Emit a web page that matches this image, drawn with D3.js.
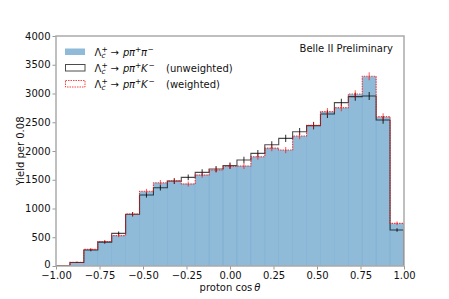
<!DOCTYPE html>
<html>
<head>
<meta charset="utf-8">
<script src="https://cdn.jsdelivr.net/npm/d3@7"></script>
<style>
  body { margin: 0; background: #fff; }
  svg { font-family: "DejaVu Sans", sans-serif; }
</style>
</head>
<body>
<svg width="449" height="299"></svg>
<script>
// bin edges of proton cos(theta), 25 bins of width 0.08
const binEdges = [-1.00, -0.92, -0.84, -0.76, -0.68, -0.60, -0.52, -0.44, -0.36, -0.28, -0.20, -0.12, -0.04,
  0.04, 0.12, 0.20, 0.28, 0.36, 0.44, 0.52, 0.60, 0.68, 0.76, 0.84, 0.92, 1.00]

// Lambda_c -> p pi pi (filled)
const pipiYield = [10, 64, 285, 425, 530, 900, 1295, 1445, 1475, 1430, 1585, 1668, 1730,
  1740, 1900, 2048, 2015, 2258, 2440, 2680, 2750, 2985, 3295, 2590, 738]

// Lambda_c -> p pi K unweighted
const pkUnweighted = [8, 62, 278, 415, 568, 899, 1235, 1362, 1478, 1542, 1629, 1687, 1745,
  1843, 1959, 2110, 2220, 2336, 2441, 2643, 2841, 2945, 2957, 2539, 626]
const pkUnweightedErr = [4, 10, 22, 27, 31, 39, 46, 48, 50, 51, 53, 54, 55,
  56, 58, 60, 62, 63, 65, 67, 69, 70, 70, 65, 32]

// Lambda_c -> p pi K weighted
const pkWeighted = [10, 65, 290, 425, 528, 905, 1300, 1449, 1480, 1426, 1583, 1670, 1735,
  1739, 1901, 2050, 2017, 2261, 2445, 2684, 2754, 2991, 3301, 2597, 742]
const pkWeightedErr = [4, 9, 20, 25, 28, 36, 42, 45, 46, 45, 48, 49, 50,
  50, 52, 54, 54, 57, 59, 62, 63, 66, 69, 61, 33]

const xTicks = [-1.00, -0.75, -0.50, -0.25, 0.00, 0.25, 0.50, 0.75, 1.00]
const yTicks = [0, 500, 1000, 1500, 2000, 2500, 3000, 3500, 4000]

const svg = d3.select('svg')
const margin = { top: 36, right: 45, bottom: 33, left: 56 }
const width = +svg.attr('width')
const height = +svg.attr('height')

const xScale = d3.scaleLinear().domain([-1, 1]).range([margin.left, width - margin.right])
const yScale = d3.scaleLinear().domain([0, 4000]).range([height - margin.bottom, margin.top])

const bins = pipiYield.map((d, i) => ({ lo: binEdges[i], hi: binEdges[i + 1] }))

svg.append('clipPath').attr('id', 'plot-clip')
  .append('rect')
  .attr('x', xScale(-1)).attr('y', yScale(4000))
  .attr('width', xScale(1) - xScale(-1))
  .attr('height', yScale(0) - yScale(4000))

const plot = svg.append('g').attr('clip-path', 'url(#plot-clip)')

// filled histogram
plot.selectAll('rect.bar').data(pipiYield).enter()
  .append('rect')
  .attr('class', 'bar')
  .attr('x', (d, i) => xScale(bins[i].lo))
  .attr('width', (d, i) => xScale(bins[i].hi) - xScale(bins[i].lo))
  .attr('y', d => yScale(d))
  .attr('height', d => yScale(0) - yScale(d))
  .attr('fill', '#1f77b4')
  .attr('fill-opacity', 0.5)
  .attr('stroke', '#1f77b4')
  .attr('stroke-opacity', 0.12)
  .attr('stroke-width', 0.6)

let stepPoints = (values) => {
  let pts = [[binEdges[0], 0]]
  values.forEach((v, i) => {
    pts.push([bins[i].lo, v])
    pts.push([bins[i].hi, v])
  })
  pts.push([binEdges[binEdges.length - 1], 0])
  return pts
}

const stepLine = d3.line().x(d => xScale(d[0])).y(d => yScale(d[1]))

plot.append('path')
  .attr('d', stepLine(stepPoints(pkUnweighted)))
  .attr('fill', 'none')
  .attr('stroke', '#000')
  .attr('stroke-opacity', 0.7)
  .attr('stroke-width', 1.1)

plot.append('path')
  .attr('d', stepLine(stepPoints(pkWeighted)))
  .attr('fill', 'none')
  .attr('stroke', '#ff0000')
  .attr('stroke-opacity', 0.75)
  .attr('stroke-width', 1.1)
  .attr('stroke-dasharray', '1.5,1')

let errorBars = (values, errs, colour, opacity) => {
  plot.append('g').selectAll('line').data(values).enter()
    .append('line')
    .attr('x1', (d, i) => xScale((bins[i].lo + bins[i].hi) / 2))
    .attr('x2', (d, i) => xScale((bins[i].lo + bins[i].hi) / 2))
    .attr('y1', (d, i) => yScale(d - errs[i]))
    .attr('y2', (d, i) => yScale(d + errs[i]))
    .attr('stroke', colour)
    .attr('stroke-opacity', opacity)
    .attr('stroke-width', 1.1)
}
errorBars(pkUnweighted, pkUnweightedErr, '#000', 0.75)
errorBars(pkWeighted, pkWeightedErr, '#ff0000', 0.6)

// axes
const xAxis = d3.axisBottom(xScale).tickValues(xTicks).tickFormat(d3.format('.2f')).tickSize(3.5).tickPadding(2)
const yAxis = d3.axisLeft(yScale).tickValues(yTicks).tickFormat(d3.format('d')).tickSize(3.5).tickPadding(2)

let gx = svg.append('g')
  .attr('transform', 'translate(0,' + yScale(0) + ')')
  .call(xAxis)
let gy = svg.append('g')
  .attr('transform', 'translate(' + xScale(-1) + ',0)')
  .call(yAxis)

;[gx, gy].forEach(g => {
  g.select('.domain').remove()
  g.selectAll('.tick line').attr('stroke', '#999').attr('stroke-width', 1)
  g.selectAll('.tick text').attr('fill', '#111').style('font-size', '10px').style('font-family', 'DejaVu Sans')
})
// the "0" label sits a touch higher, as in the original
gy.selectAll('.tick text').filter(d => d === 0).attr('dy', '0.1em')

svg.append('rect')
  .attr('x', xScale(-1)).attr('y', yScale(4000))
  .attr('width', xScale(1) - xScale(-1))
  .attr('height', yScale(0) - yScale(4000))
  .attr('fill', 'none')
  .attr('stroke', '#aaa')
  .attr('stroke-width', 1.5)

// axis labels
let xLabel = svg.append('text')
  .attr('x', (xScale(-1) + xScale(1)) / 2)
  .attr('y', 291)
  .attr('text-anchor', 'middle')
  .style('font-size', '10px')
  .attr('fill', '#111')
xLabel.append('tspan').text('proton cos')
xLabel.append('tspan').attr('font-style', 'italic').attr('dx', 2).text('θ')

svg.append('text')
  .attr('transform', 'translate(24,' + ((yScale(0) + yScale(4000)) / 2) + ') rotate(-90)')
  .attr('text-anchor', 'middle')
  .style('font-size', '10px')
  .attr('fill', '#111')
  .text('Yield per 0.08')

svg.append('text')
  .attr('x', 393)
  .attr('y', 52)
  .attr('text-anchor', 'end')
  .style('font-size', '10px')
  .attr('fill', '#111')
  .text('Belle II Preliminary')

// legend
const legendDaughters = [['π', '−'], ['K', '−'], ['K', '−']]
const legendNotes = ['', '(unweighted)', '(weighted)']

let legend = svg.append('g')

legend.append('rect').attr('x', 65).attr('y', 48.5).attr('width', 20).attr('height', 6.5)
  .attr('fill', '#1f77b4').attr('fill-opacity', 0.5)
legend.append('rect').attr('x', 65.5).attr('y', 64.5).attr('width', 19.5).attr('height', 6.5)
  .attr('fill', 'none').attr('stroke', '#000').attr('stroke-opacity', 0.7).attr('stroke-width', 1)
legend.append('rect').attr('x', 65.5).attr('y', 80.5).attr('width', 19.5).attr('height', 6.5)
  .attr('fill', 'none').attr('stroke', '#ff0000').attr('stroke-opacity', 0.75).attr('stroke-width', 1)
  .attr('stroke-dasharray', '1.5,1')

legendDaughters.forEach((dau, r) => {
  let base = 55.5 + r * 16
  let t = legend.append('text').style('font-size', '10px').attr('fill', '#111')
  let piece = (x, dy, txt, italic, small) => {
    let s = t.append('tspan').attr('x', x).attr('y', base + dy).text(txt)
    if (italic) s.attr('font-style', 'italic')
    if (small) s.attr('font-size', '7.5px')
  }
  piece(94.5, 0, 'Λ', false, false)
  piece(101.5, 2.5, 'c', true, true)
  piece(101.5, -4, '+', false, true)
  piece(110.5, 0, '→', false, false)
  piece(123, 0, 'p', true, false)
  piece(129, 0, 'π', true, false)
  piece(135, -4, '+', false, true)
  piece(141, 0, dau[0], true, false)
  piece(dau[0] === 'K' ? 148.5 : 147.5, -4, dau[1], false, true)
  if (legendNotes[r]) piece(166, 0, legendNotes[r], false, false)
})
</script>
</body>
</html>
